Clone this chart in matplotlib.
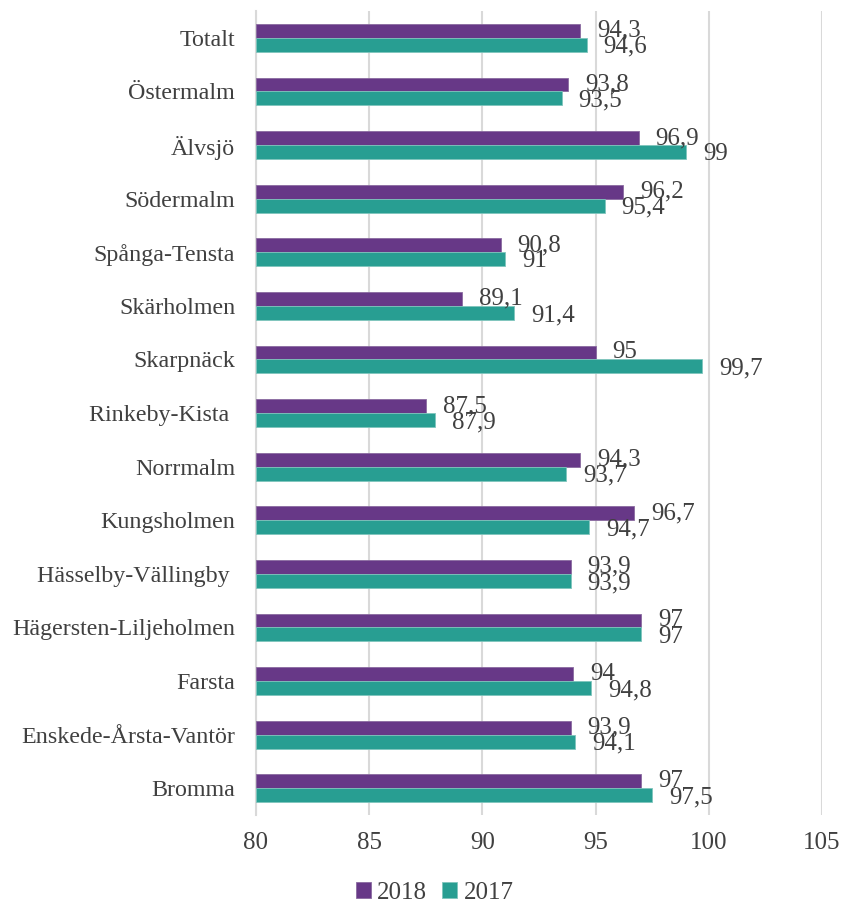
import matplotlib
matplotlib.use("Agg")
import matplotlib.pyplot as plt
import numpy as np

plt.rcParams['font.family'] = ['Liberation Serif', 'DejaVu Serif']

# data, top to bottom as in the chart
areas = ['Totalt', 'Östermalm', 'Älvsjö', 'Södermalm', 'Spånga-Tensta',
         'Skärholmen', 'Skarpnäck', 'Rinkeby-Kista ', 'Norrmalm', 'Kungsholmen',
         'Hässelby-Vällingby ', 'Hägersten-Liljeholmen', 'Farsta',
         'Enskede-Årsta-Vantör', 'Bromma']
v2018 = [94.3, 93.8, 96.9, 96.2, 90.8, 89.1, 95, 87.5, 94.3, 96.7, 93.9, 97, 94, 93.9, 97]
v2017 = [94.6, 93.5, 99, 95.4, 91, 91.4, 99.7, 87.9, 93.7, 94.7, 93.9, 97, 94.8, 94.1, 97.5]
xticks = [80, 85, 90, 95, 100, 105]

purple = '#673887'
teal = '#289E92'
txt = '#404040'

def fmt(v):
    s = ('%g' % v).replace('.', ',')
    return s

fig = plt.figure(figsize=(8.51, 9.05), dpi=100)
ax = fig.add_axes([0.3008, 0.0994, 0.6652, 0.8884])

y = np.arange(len(areas))
h = 0.26
ax.barh(y - h / 2, [v - 80 for v in v2018], left=80, height=h, color=purple,
        edgecolor='#8a6aa0', linewidth=0.6, label='2018', zorder=3)
ax.barh(y + h / 2, [v - 80 for v in v2017], left=80, height=h, color=teal,
        edgecolor='#7fc5bd', linewidth=0.6, label='2017', zorder=3)

for i in range(len(areas)):
    ax.text(v2018[i] + 0.75, y[i] - h / 2, fmt(v2018[i]), va='center', ha='left',
            fontsize=18, color=txt, zorder=4)
    ax.text(v2017[i] + 0.75, y[i] + h / 2 + 0.04, fmt(v2017[i]), va='center', ha='left',
            fontsize=18, color=txt, zorder=4)

ax.set_xlim(80, 105)
ax.set_ylim(len(areas) - 0.5, -0.5)
ax.set_yticks(y)
ax.set_yticklabels(areas)
ax.set_xticks(xticks)
ax.set_xticklabels([str(t) for t in xticks])
ax.tick_params(length=0, labelsize=18, colors=txt)
ax.tick_params(axis='y', labelsize=17.3, pad=15)
ax.tick_params(axis='x', pad=12)

ax.grid(axis='x', color='#d9d9d9', linewidth=1.5, zorder=0)
for s in ['top', 'right', 'bottom']:
    ax.spines[s].set_visible(False)
ax.spines['left'].set_color('#d9d9d9')
ax.spines['left'].set_linewidth(1.5)

leg = fig.legend(loc='lower center', bbox_to_anchor=(0.511, -0.024), ncol=2, frameon=False,
                 fontsize=18, handlelength=0.6, handleheight=0.6, handletextpad=0.25,
                 columnspacing=0.6)
for t in leg.get_texts():
    t.set_color(txt)

fig.savefig('out.png', dpi=100)
